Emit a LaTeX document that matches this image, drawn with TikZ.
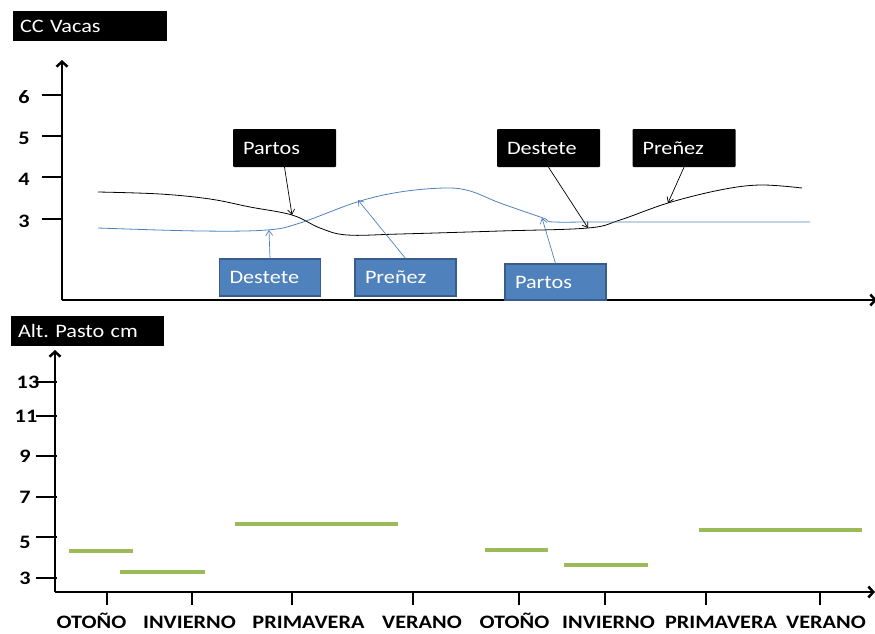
\documentclass[tikz,border=0pt]{standalone}
\usepackage{fontspec}
\setmainfont{Carlito}[FakeStretch=1.17]
\usetikzlibrary{arrows.meta,shadows}
\definecolor{cblue}{HTML}{4F81BD}
\definecolor{cbluedark}{HTML}{385D8A}
\definecolor{cgreen}{HTML}{9BBB59}
\newcommand{\lblfont}{\fontsize{19}{22}\selectfont\frenchspacing}
\tikzset{
  axis/.style={line width=2.5pt,-{Straight Barb[length=5pt,width=11pt]}},
  tickmark/.style={line width=2.5pt},
  titlebox/.style={fill=black,text=white,draw=white,line width=2pt,minimum height=32pt,
    inner xsep=8pt,text width=#1,align=left,
    drop shadow={shadow xshift=1pt,shadow yshift=-1.5pt,opacity=.3}},
  blacktag/.style={fill=black,text=white,rounded corners=1pt,minimum height=38pt,
    inner xsep=10pt,text width=83pt,align=left},
  bluetag/.style={fill=cblue,draw=cbluedark,line width=1.2pt,text=white,minimum height=37pt,
    inner xsep=10pt,text width=81pt,align=left},
  pointer/.style={line width=.7pt,-{Straight Barb[length=5pt,width=7pt]}},
  pasto/.style={cgreen,line width=4pt},
  season/.style={font=\lblfont\bfseries,anchor=base,inner sep=0pt},
}
\begin{document}
\begin{tikzpicture}[x=1pt,y=-1pt,font=\lblfont]
  \useasboundingbox (0,0) rectangle (875,634);

  % condicion corporal de las vacas
  \node[titlebox=140pt] (ccvacas) at (90,26) {CC Vacas};
  \draw[axis] (62,300) -- (62,60);
  \draw[axis] (62,300) -- (877,300);
  \foreach \v/\y in {6/95,5/136,4/177,3/219} {
    \draw[tickmark] (42,\y) -- (62,\y);
    \node[font=\lblfont\bfseries] (cc\v) at (24,\y+2) {\v};
  }

  \draw[line width=.8pt] plot[smooth,tension=.6] coordinates {(98,192) (160,194) (210,199) (250,207)
    (292,215) (320,228) (347,235) (400,234) (500,231) (588,228) (620,220) (668,203) (720,190) (760,185) (802,188)};
  \draw[cblue,line width=.8pt] plot[smooth,tension=.6] coordinates {(98,228) (200,231) (267,230) (300,223)
    (357,202) (400,192) (445,188) (470,191) (500,203) (543,218) (553,222) (600,222) (810,222)};

  \coordinate (nPartos) at (292,215);
  \coordinate (nDestete) at (588,228);
  \coordinate (nPrenez) at (668,203);
  \coordinate (bDestete) at (269,230);
  \coordinate (bPrenez) at (358,200);
  \coordinate (bPartos) at (542,218);

  \node[blacktag] (partos) at (284.5,148) {Partos};
  \node[blacktag] (destete) at (548.5,148) {Destete};
  \node[blacktag] (prenez) at (684,148) {Preñez};
  \node[bluetag] (destete2) at (270,277.5) {Destete};
  \node[bluetag] (prenez2) at (405.5,277.5) {Preñez};
  \node[bluetag,minimum height=36pt] (partos2) at (555.5,282) {Partos};

  \draw[pointer] (partos.south) -- (nPartos);
  \draw[pointer] (destete.south) -- (nDestete);
  \draw[pointer] (prenez.south) -- (nPrenez);
  \draw[pointer,cblue] (destete2.north) -- (bDestete);
  \draw[pointer,cblue] (prenez2.north) -- (bPrenez);
  \draw[pointer,cblue] (partos2.north) -- (bPartos);

  % altura del pasto
  \node[titlebox=139pt] (pasto) at (87.5,330.5) {Alt. Pasto cm};
  \draw[axis] (55,592) -- (55,350);
  \draw[axis] (55,592) -- (875,592);
  \foreach \y in {382,416,456,497,537,578}
    \draw[tickmark] (36,\y) -- (57,\y);
  \foreach \v/\y/\lx in {13/382/28,11/416/26,9/456/25,7/497/25,5/542/25,3/578/25}
    \node[font=\lblfont\bfseries,inner sep=0pt] (alt\v) at (\lx,\y) {\v};

  \foreach \x in {107,192,292,413,519,605,706,820}
    \draw[tickmark] (\x,592) -- (\x,605);
  \foreach \s/\x [count=\i] in {OTOÑO/91.5,INVIERNO/189.5,PRIMAVERA/308.5,VERANO/422,
      OTOÑO/514.5,INVIERNO/608.5,PRIMAVERA/721,VERANO/826}
    \node[season] (season\i) at (\x,628) {\s};

  \draw[pasto] (69,551) -- (133,551);
  \draw[pasto] (120,572) -- (205,572);
  \draw[pasto] (235,524) -- (398,524);
  \draw[pasto] (485,550) -- (548,550);
  \draw[pasto] (564,565) -- (648,565);
  \draw[pasto] (699,530) -- (862,530);
\end{tikzpicture}
\end{document}
